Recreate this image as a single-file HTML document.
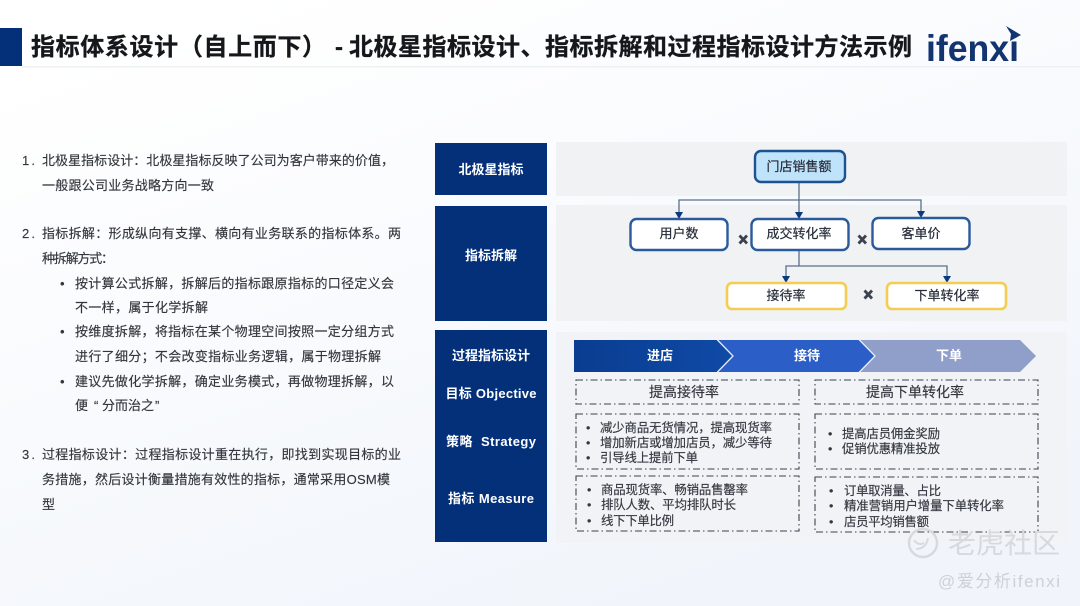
<!DOCTYPE html>
<html lang="zh"><head><meta charset="utf-8"><title>指标体系设计</title>
<style>
html,body{margin:0;padding:0;width:1080px;height:606px;overflow:hidden;background:#fff}
svg{display:block;filter:blur(.35px)}
text{font-family:"Liberation Sans","Noto Sans CJK SC",sans-serif}
.b{font-weight:700}
.l{font-size:13px;fill:#33363d;stroke:#33363d;stroke-width:.15}
.lab{font-size:13px;fill:#fff;font-weight:700;text-anchor:middle}
.n{font-size:13px;fill:#262c38;stroke:#262c38;stroke-width:.2;text-anchor:middle}
.d{fill:none;stroke:#3c4350;stroke-width:1.1;stroke-dasharray:7 3 1.5 3}
.t{font-size:12.4px;fill:#33373f;stroke:#33373f;stroke-width:.15}
.o{font-size:14px;fill:#33373f;stroke:#33373f;stroke-width:.15;text-anchor:middle}
.x{stroke:#3c4350;stroke-width:2.8;fill:none}
.c{stroke:#5b6f8c;stroke-width:1.3;fill:none}
</style></head><body>
<svg width="1080" height="606" viewBox="0 0 1080 606" xmlns="http://www.w3.org/2000/svg">
<defs>
<linearGradient id="bg" x1="0" y1="0" x2="0.6" y2="1"><stop offset="0.1" stop-color="#fff"/><stop offset="1" stop-color="#f1f5fb"/></linearGradient>
<linearGradient id="c1" x1="0" y1="0" x2="1" y2="0"><stop offset="0" stop-color="#0a3d91"/><stop offset="1" stop-color="#0f4aa6"/></linearGradient>
</defs>
<rect width="1080" height="606" fill="url(#bg)"/>
<!-- header -->
<rect x="0" y="28" width="22" height="38" fill="#04307a"/>
<rect x="22" y="66" width="1058" height="1.5" fill="#eef0f2"/>
<g font-size="24" fill="#15171b" class="b" stroke="#15171b" stroke-width=".3">
<text class="b" x="31" y="55" textLength="295" lengthAdjust="spacing">指标体系设计（自上而下）</text>
<text class="b" x="335" y="55">-</text>
<text class="b" x="349" y="55" textLength="563" lengthAdjust="spacing">北极星指标设计、指标拆解和过程指标设计方法示例</text>
</g>
<text class="b" x="926" y="61" font-size="37" fill="#12346f" textLength="93" lengthAdjust="spacingAndGlyphs">ifenxi</text>
<polygon points="1006,26 1021,35 1010,41 1011,34" fill="#12346f"/>
<!-- left text -->
<g class="l">
<text x="22" y="165" textLength="13">1.</text>
<text x="42" y="165" textLength="352" lengthAdjust="spacing">北极星指标设计：北极星指标反映了公司为客户带来的价值，</text>
<text x="42" y="190" textLength="172" lengthAdjust="spacing">一般跟公司业务战略方向一致</text>
<text x="22" y="238" textLength="13">2.</text>
<text x="42" y="238" textLength="359" lengthAdjust="spacing">指标拆解：形成纵向有支撑、横向有业务联系的指标体系。两</text>
<text x="42" y="263" textLength="72" lengthAdjust="spacing">种拆解方式：</text>
<text x="60" y="288">•</text>
<text x="75" y="288" textLength="319" lengthAdjust="spacing">按计算公式拆解，拆解后的指标跟原指标的口径定义会</text>
<text x="75" y="312" textLength="133" lengthAdjust="spacing">不一样，属于化学拆解</text>
<text x="60" y="336">•</text>
<text x="75" y="336" textLength="319" lengthAdjust="spacing">按维度拆解，将指标在某个物理空间按照一定分组方式</text>
<text x="75" y="361" textLength="306" lengthAdjust="spacing">进行了细分；不会改变指标业务逻辑，属于物理拆解</text>
<text x="60" y="386">•</text>
<text x="75" y="386" textLength="319" lengthAdjust="spacing">建议先做化学拆解，确定业务模式，再做物理拆解，以</text>
<text x="75" y="410">便</text>
<text x="94" y="410">“</text>
<text x="102" y="410" textLength="52" lengthAdjust="spacing">分而治之</text>
<text x="155" y="410">”</text>
<text x="22" y="459" textLength="13">3.</text>
<text x="42" y="459" textLength="359" lengthAdjust="spacing">过程指标设计：过程指标设计重在执行，即找到实现目标的业</text>
<text x="42" y="484" textLength="348" lengthAdjust="spacing">务措施，然后设计衡量措施有效性的指标，通常采用OSM模</text>
<text x="42" y="509" textLength="13">型</text>
</g>
<!-- panels -->
<rect x="556" y="142" width="511" height="54" fill="#f1f2f4"/>
<rect x="556" y="205" width="511" height="116" fill="#f1f2f4"/>
<rect x="556" y="332" width="511" height="211" fill="#f1f3f6"/>
<rect x="435" y="143" width="112" height="52" fill="#04307a"/>
<rect x="435" y="206" width="112" height="115" fill="#04307a"/>
<rect x="435" y="330" width="112" height="212" fill="#04307a"/>
<text class="lab" x="491" y="174">北极星指标</text>
<text class="lab" x="491" y="260">指标拆解</text>
<text class="lab" x="491" y="360">过程指标设计</text>
<text class="lab" x="491" y="398" textLength="91" lengthAdjust="spacing">目标 Objective</text>
<text class="lab" x="491" y="446" textLength="90" lengthAdjust="spacing">策略&#160; Strategy</text>
<text class="lab" x="491" y="503" textLength="86" lengthAdjust="spacing">指标 Measure</text>
<!-- connectors -->
<path class="c" d="M799 182V213M679 213V200H921V213"/>
<path class="c" d="M786 277V266H947V277M799 250V266"/>
<g fill="#0c3a80">
<polygon points="675,212 683,212 679,219"/><polygon points="795,212 803,212 799,219"/><polygon points="917,211 925,211 921,218"/>
<polygon points="782,276 790,276 786,283"/><polygon points="943,276 951,276 947,283"/>
</g>
<!-- nodes -->
<rect x="755" y="151" width="90" height="31" rx="6" fill="#bfe3fb" stroke="#1d5190" stroke-width="2.400"/>
<rect x="630.500" y="219" width="97" height="31" rx="6" fill="#fff" stroke="#2a5a9c" stroke-width="2.400"/>
<rect x="751.500" y="219" width="97" height="31" rx="6" fill="#fff" stroke="#2a5a9c" stroke-width="2.400"/>
<rect x="872.500" y="218" width="97" height="31" rx="6" fill="#fff" stroke="#2a5a9c" stroke-width="2.400"/>
<rect x="727" y="283" width="119" height="26" rx="5" fill="#fff" stroke="#f2cd52" stroke-width="2.600"/>
<rect x="887" y="283" width="119" height="26" rx="5" fill="#fff" stroke="#f2cd52" stroke-width="2.600"/>
<text class="n" x="799" y="171">门店销售额</text>
<text class="n" x="679" y="238">用户数</text>
<text class="n" x="799" y="238">成交转化率</text>
<text class="n" x="921" y="238">客单价</text>
<text class="n" x="786" y="300">接待率</text>
<text class="n" x="947" y="300">下单转化率</text>
<path class="x" d="M739.500 235.500l7.500 8m0-8l-7.500 8M858.500 235.500l7.500 8m0-8l-7.500 8M864.500 290.500l7.500 8m0-8l-7.500 8"/>
<!-- chevrons -->
<polygon points="860,340 1020,340 1036,356 1020,372 860,372 875,356" fill="#8f9fca"/>
<polygon points="718,340 860,340 875,356 860,372 718,372 733,356" fill="#2b5ec6"/>
<polygon points="574,340 718,340 733,356 718,372 574,372" fill="url(#c1)"/>
<path d="M717 339.500L733 356L717 372.500M859 339.500L875 356L859 372.500" fill="none" stroke="#e8edf6" stroke-width="1.300"/>
<text class="lab" x="660" y="360">进店</text>
<text class="lab" x="807" y="360">接待</text>
<text class="lab" x="949" y="360">下单</text>
<!-- dashed boxes -->
<rect class="d" x="576" y="380" width="223" height="24"/>
<rect class="d" x="815" y="380" width="223" height="24"/>
<rect class="d" x="576" y="414" width="223" height="55"/>
<rect class="d" x="815" y="414" width="223" height="55"/>
<rect class="d" x="576" y="476" width="223" height="55"/>
<rect class="d" x="815" y="477" width="223" height="55"/>
<text class="o" x="684" y="397">提高接待率</text>
<text class="o" x="915" y="397">提高下单转化率</text>
<g class="t">
<text x="586" y="432">•</text><text x="600" y="432" textLength="172" lengthAdjust="spacing">减少商品无货情况，提高现货率</text>
<text x="586" y="447">•</text><text x="600" y="447" textLength="172" lengthAdjust="spacing">增加新店或增加店员，减少等待</text>
<text x="586" y="462">•</text><text x="600" y="462" textLength="98" lengthAdjust="spacing">引导线上提前下单</text>
<text x="828" y="438">•</text><text x="842" y="438" textLength="98" lengthAdjust="spacing">提高店员佣金奖励</text>
<text x="828" y="453">•</text><text x="842" y="453" textLength="98" lengthAdjust="spacing">促销优惠精准投放</text>
<text x="587" y="494">•</text><text x="601" y="494" textLength="147" lengthAdjust="spacing">商品现货率、畅销品售罄率</text>
<text x="587" y="509">•</text><text x="601" y="509" textLength="135" lengthAdjust="spacing">排队人数、平均排队时长</text>
<text x="587" y="525">•</text><text x="601" y="525" textLength="73" lengthAdjust="spacing">线下下单比例</text>
<text x="829" y="495">•</text><text x="844" y="495" textLength="97" lengthAdjust="spacing">订单取消量、占比</text>
<text x="829" y="510">•</text><text x="844" y="510" textLength="160" lengthAdjust="spacing">精准营销用户增量下单转化率</text>
<text x="829" y="526">•</text><text x="844" y="526" textLength="85" lengthAdjust="spacing">店员平均销售额</text>
</g>
<!-- watermark -->
<circle cx="923" cy="543" r="14" fill="none" stroke="#d6d9de" stroke-width="2.500"/>
<path d="M916 549q10 0 12-11M914 540q4 6 10 3" fill="none" stroke="#d6d9de" stroke-width="2"/>
<text x="948" y="553" font-size="28" fill="#d6d9de" textLength="112" lengthAdjust="spacing">老虎社区</text>
<text x="938" y="587" font-size="17" fill="#cdd1d7" textLength="122" lengthAdjust="spacing">@爱分析ifenxi</text>
</svg>
</body></html>
